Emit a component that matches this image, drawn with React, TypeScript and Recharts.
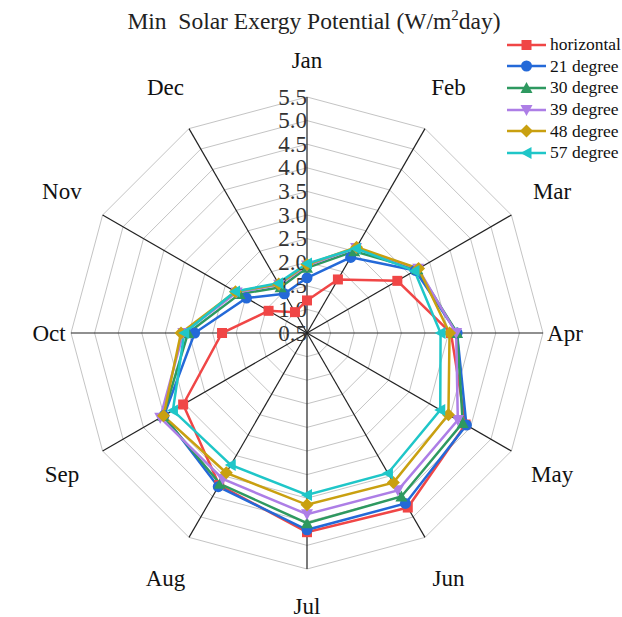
import React from 'react';
import { RadarChart, Radar, PolarGrid, PolarAngleAxis, PolarRadiusAxis } from 'recharts';

const months = ['Jan', 'Feb', 'Mar', 'Apr', 'May', 'Jun', 'Jul', 'Aug', 'Sep', 'Oct', 'Nov', 'Dec'];
const horizontal = [1.19, 1.81, 2.71, 3.55, 4.38, 4.77, 4.72, 4.22, 3.53, 2.3, 1.44, 1.01];
const deg21 = [1.67, 2.35, 3.15, 3.68, 4.4, 4.67, 4.67, 4.26, 4.0, 2.88, 1.98, 1.46];
const deg30 = [1.88, 2.5, 3.2, 3.68, 4.31, 4.5, 4.53, 4.19, 4.02, 3.02, 2.15, 1.62];
const deg39 = [1.93, 2.58, 3.22, 3.66, 4.19, 4.35, 4.34, 4.07, 4.09, 3.12, 2.22, 1.68];
const deg48 = [1.95, 2.6, 3.23, 3.52, 3.96, 4.16, 4.14, 3.92, 4.01, 3.17, 2.25, 1.7];
const deg57 = [1.97, 2.57, 3.13, 3.33, 3.76, 3.93, 3.93, 3.73, 3.78, 3.1, 2.26, 1.72];
const radiusTicks = [0.5, 1.0, 1.5, 2.0, 2.5, 3.0, 3.5, 4.0, 4.5, 5.0, 5.5];

// the radial axis starts at 0.5 in the centre; recharts stretches a [0.5, 5.5] domain to 6,
// so values are plotted relative to the axis minimum on a [0, 5] scale
const AXIS_MIN = radiusTicks[0];
const AXIS_MAX = radiusTicks[radiusTicks.length - 1];

const series = [
  { key: 'horizontal', name: 'horizontal', values: horizontal, color: '#f04646', shape: 'square' },
  { key: 'deg21', name: '21 degree', values: deg21, color: '#2469d8', shape: 'circle' },
  { key: 'deg30', name: '30 degree', values: deg30, color: '#2e9960', shape: 'up' },
  { key: 'deg39', name: '39 degree', values: deg39, color: '#ad7ee6', shape: 'down' },
  { key: 'deg48', name: '48 degree', values: deg48, color: '#c9a010', shape: 'diamond' },
  { key: 'deg57', name: '57 degree', values: deg57, color: '#1fc6c8', shape: 'left' },
];

const data = months.map((m, i) => {
  const row = { month: m };
  series.forEach((s) => {
    row[s.key] = s.values[i] - AXIS_MIN;
  });
  return row;
});

if (typeof document !== 'undefined') document.body.style.margin = '0';

const W = 622;
const H = 617;
const CX = 307;
const CY = 333;
const FONT = '"Liberation Serif", "Times New Roman", serif';

const Marker = ({ x, y, shape, color }) => {
  if (shape === 'square') return <rect x={x - 5} y={y - 5} width={10} height={10} fill={color} />;
  if (shape === 'circle') return <circle cx={x} cy={y} r={5.5} fill={color} />;
  if (shape === 'up') return <polygon points={`${x},${y - 6} ${x + 6},${y + 5} ${x - 6},${y + 5}`} fill={color} />;
  if (shape === 'down') return <polygon points={`${x},${y + 6} ${x + 6},${y - 5} ${x - 6},${y - 5}`} fill={color} />;
  if (shape === 'diamond') return <polygon points={`${x},${y - 6.5} ${x + 6.5},${y} ${x},${y + 6.5} ${x - 6.5},${y}`} fill={color} />;
  return <polygon points={`${x - 6},${y} ${x + 5},${y - 6} ${x + 5},${y + 6}`} fill={color} />;
};

const MonthTick = (props) => {
  const { payload } = props;
  const a = (payload.coordinate * Math.PI) / 180;
  const c = Math.cos(a);
  const s = Math.sin(a);
  let r = 283;
  if (Math.abs(c) < 0.01) r = 273;
  else if (Math.abs(s) < 0.01) r = 258;
  return (
    <text x={CX + r * c} y={CY - r * s} textAnchor="middle" dominantBaseline="central"
      fontFamily={FONT} fontSize={23} fill="#111">
      {payload.value}
    </text>
  );
};

const RadiusTick = (props) => {
  const { x, y, payload } = props;
  return (
    <text x={x} y={y} textAnchor="end" dominantBaseline="central" fontFamily={FONT} fontSize={23} fill="#333">
      {(payload.value + AXIS_MIN).toFixed(1)}
    </text>
  );
};

const LegendBox = () => (
  <div style={{ position: 'absolute', top: 34, left: 506, fontFamily: FONT, fontSize: 17.5, color: '#111', whiteSpace: 'nowrap' }}>
    {series.map((s) => (
      <div key={s.key} style={{ display: 'flex', alignItems: 'center', height: 21.6 }}>
        <svg width={42} height={16}>
          <line x1={1} y1={8} x2={40} y2={8} stroke={s.color} strokeWidth={2.5} />
          <Marker x={20.5} y={8} shape={s.shape} color={s.color} />
        </svg>
        <span style={{ marginLeft: 2 }}>{s.name}</span>
      </div>
    ))}
  </div>
);

export default function App() {
  return (
    <div style={{ position: 'relative', width: W, height: H, overflow: 'hidden' }}>
      <div style={{ position: 'absolute', top: 7, left: 3, width: W, textAlign: 'center', fontFamily: FONT, fontSize: 23.5, color: '#222', whiteSpace: 'pre' }}>
        {'Min  Solar Exergy Potential (W/m'}<sup style={{ fontSize: 15 }}>2</sup>{'day)'}
      </div>
      <RadarChart width={W} height={H} data={data} cx={CX} cy={CY} outerRadius={236} startAngle={90} endAngle={-270}
        margin={{ top: 0, right: 0, bottom: 0, left: 0 }}>
        <PolarGrid gridType="polygon" radialLines={false} stroke="#c4c4c4" strokeWidth={1} />
        <PolarGrid gridType="polygon" polarRadius={[]} stroke="#222" strokeWidth={1.2} />
        <PolarAngleAxis dataKey="month" axisLine={false} tickLine={false} tick={<MonthTick />} />
        <PolarRadiusAxis angle={90} type="number" domain={[0, AXIS_MAX - AXIS_MIN]} allowDataOverflow
          ticks={radiusTicks.map((t) => t - AXIS_MIN)} axisLine={false} tickLine={false} tick={<RadiusTick />} />
        {series.map((s) => (
          <Radar key={s.key} name={s.name} dataKey={s.key} stroke={s.color} strokeWidth={2.5} fill="none"
            fillOpacity={0} isAnimationActive={false}
            dot={(p) => <Marker key={`${s.key}-${p.index}`} x={p.cx} y={p.cy} shape={s.shape} color={s.color} />} />
        ))}
      </RadarChart>
      <LegendBox />
    </div>
  );
}
